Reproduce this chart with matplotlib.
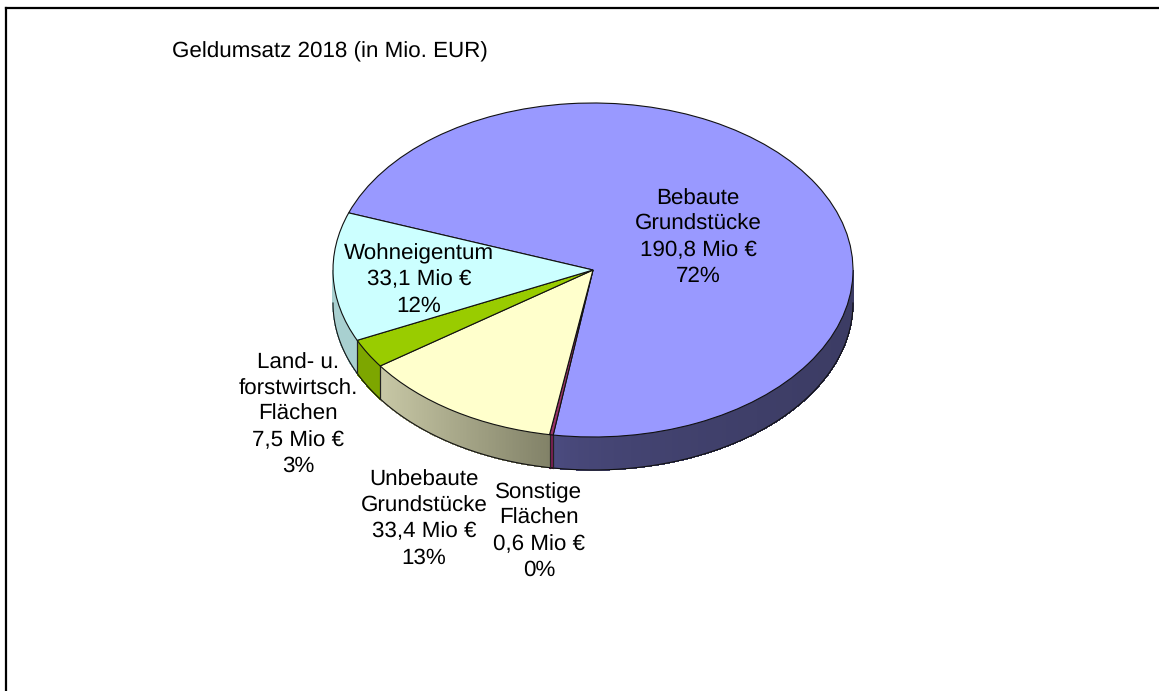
import numpy as np
import matplotlib
matplotlib.use("Agg")
import matplotlib.pyplot as plt
from matplotlib.lines import Line2D
from matplotlib.patches import Polygon

plt.rcParams['font.family'] = ['Liberation Sans', 'DejaVu Sans']
plt.rcParams['text.hinting'] = 'no_hinting'

title = "Geldumsatz 2018 (in Mio. EUR)"
categories = ["Bebaute\nGrundstücke", "Sonstige\nFlächen", "Unbebaute\nGrundstücke",
              "Land- u.\nforstwirtsch.\nFlächen", "Wohneigentum"]
values = [190.8, 0.6, 33.4, 7.5, 33.1]
value_labels = ["190,8 Mio €", "0,6 Mio €", "33,4 Mio €", "7,5 Mio €", "33,1 Mio €"]
percent_labels = ["72%", "0%", "13%", "3%", "12%"]
colors = ["#9999FF", "#993366", "#FFFFCC", "#99CC00", "#CCFFFF"]
side_left = ["#505088", "#7D1F55", "#C8C8A6", "#7DA600", "#A8D0D0"]
side_right = ["#3C3C64", "#7D1F55", "#828268", "#7DA600", "#A8D0D0"]
side_gamma = [0.35, 1.0, 1.0, 1.0, 1.0]
label_px = [(698, 237.5), (539, 531.5), (424, 519), (298, 414.5), (419, 280)]

W, H = 1159, 691
CX, CY, RX, RY, DEPTH = 593, 270, 260, 167, 33
START = 160.0

fig = plt.figure(figsize=(W / 100, H / 100), dpi=100, facecolor="white")
ax = fig.add_axes([(CX - RX) / W, 1 - (CY + RY) / H, 2 * RX / W, 2 * RY / H])
ax.set_axis_off()

wedges, _ = ax.pie(values, colors=colors, startangle=START, counterclock=False, radius=1,
                   center=(0, 0), frame=False,
                   wedgeprops=dict(edgecolor="#111111", linewidth=0.8, zorder=5))
ax.set_aspect("auto")
ax.set_xlim(-1, 1)
ax.set_ylim(-1, 1)
for w in wedges:
    w.set_clip_on(False)

d = DEPTH / RY
frac = np.array(values) / sum(values) * 360
edges = START - np.concatenate([[0], np.cumsum(frac)])


def mix(c1, c2, t):
    a, b = matplotlib.colors.to_rgb(c1), matplotlib.colors.to_rgb(c2)
    return tuple(a[j] + (b[j] - a[j]) * t for j in range(3))


for i in range(len(values)):
    a0, a1 = edges[i + 1], edges[i]
    lo = a0 % 360
    hi = lo + (a1 - a0)
    lo2, hi2 = max(lo, 180), min(hi, 360)
    if lo2 >= hi2:
        continue
    n = max(2, int((hi2 - lo2) * 3))
    th = np.radians(np.linspace(lo2, hi2, n + 1))
    x, y = np.cos(th), np.sin(th)
    x0, x1 = x.min(), x.max()
    for k in range(n):
        t = ((0.5 * (x[k] + x[k + 1]) - x0) / (x1 - x0)) ** side_gamma[i]
        c = mix(side_left[i], side_right[i], t)
        poly = [(x[k], y[k]), (x[k + 1], y[k + 1]), (x[k + 1], y[k + 1] - d), (x[k], y[k] - d)]
        ax.add_patch(Polygon(poly, closed=True, facecolor=c, edgecolor=c, linewidth=0.5,
                             antialiased=False, zorder=3, clip_on=False))
    ax.add_line(Line2D(x, y - d, color="#111111", lw=0.8, zorder=4, clip_on=False))
    for xe, ye in ((x[0], y[0]), (x[-1], y[-1])):
        if 180 < np.degrees(np.arctan2(ye, xe)) % 360 < 360:
            ax.add_line(Line2D([xe, xe], [ye, ye - d], color="#222222", lw=0.8, zorder=4, clip_on=False))

fig.add_artist(Line2D([6 / W, 1], [1 - 8 / H, 1 - 8 / H], color="black", lw=1.6))
fig.add_artist(Line2D([6 / W, 6 / W], [0, 1 - 8 / H], color="black", lw=1.6))

fig.text(172 / W, 1 - 52 / H, title, fontsize=16.1, color="black", ha="left", va="center")

for i, (px, py) in enumerate(label_px):
    txt = f"{categories[i]}\n{value_labels[i]}\n{percent_labels[i]}"
    fig.text(px / W, 1 - py / H, txt, fontsize=16.1, ha="center", va="center",
             multialignment="center", linespacing=1.335, color="black", zorder=10)

fig.savefig("out.png", dpi=100, facecolor="white")
